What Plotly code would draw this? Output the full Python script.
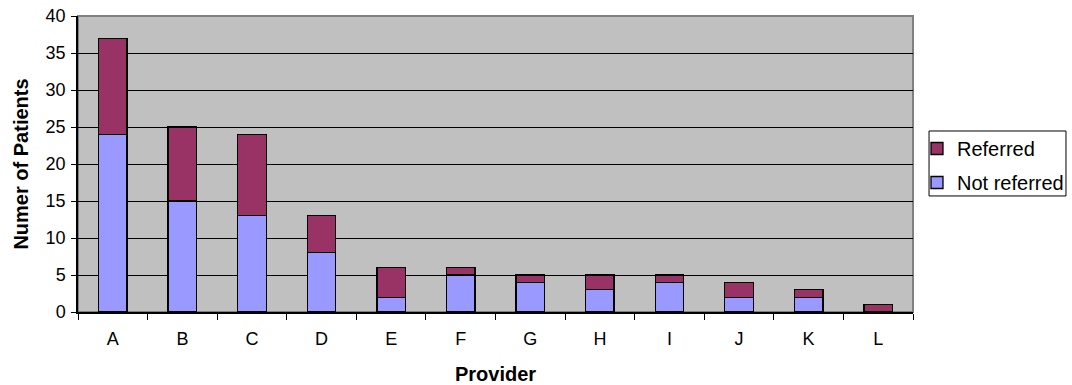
import plotly.graph_objects as go

providers = ["A", "B", "C", "D", "E", "F", "G", "H", "I", "J", "K", "L"]
not_referred = [24, 15, 13, 8, 2, 5, 4, 3, 4, 2, 2, 0]
referred = [13, 10, 11, 5, 4, 1, 1, 2, 1, 2, 1, 1]
y_ticks = [0, 5, 10, 15, 20, 25, 30, 35, 40]

FONT = "Liberation Sans, Arial, sans-serif"

fig = go.Figure()
fig.add_trace(go.Bar(
    x=providers, y=not_referred, name="Not referred",
    legendgroup="nr", legendrank=2,
    marker=dict(color="#9999FF", line=dict(color="black", width=1.3)),
    width=0.41,
))
fig.add_trace(go.Bar(
    x=providers, y=referred, name="Referred",
    legendgroup="r", legendrank=1,
    marker=dict(color="#993366", line=dict(color="black", width=1.3)),
    width=0.41,
))

fig.update_layout(
    barmode="stack",
    width=1072, height=385,
    margin=dict(l=78, r=159, t=16, b=73, autoexpand=False),
    paper_bgcolor="white",
    plot_bgcolor="#C0C0C0",
    font=dict(family=FONT, size=18, color="black"),
    showlegend=True,
    legend=dict(
        xref="container", yref="container",
        x=0.8554, y=0.665, xanchor="left", yanchor="top",
        traceorder="grouped",
        borderwidth=0,
        font=dict(size=20, family=FONT),
        tracegroupgap=5,
        bgcolor="rgba(0,0,0,0)",
    ),
    xaxis=dict(
        title=dict(text="<b>Provider</b>", font=dict(size=20), standoff=22),
        ticks="outside", tickson="boundaries", ticklen=6, tickcolor="black",
        showline=True, linecolor="black", linewidth=1.5,
        showgrid=False,
        ticklabelstandoff=10,
    ),
    yaxis=dict(
        title=dict(text="<b>Numer of Patients</b>", font=dict(size=20), standoff=12),
        range=[0, 40], tickvals=y_ticks,
        ticks="outside", ticklen=5, tickcolor="black",
        showline=True, linecolor="black", linewidth=1.5,
        showgrid=True, gridcolor="black", gridwidth=1,
        zeroline=False,
        ticklabelstandoff=2,
    ),
)

# grey frame along the top and right of the plot area
fig.add_shape(type="rect", xref="paper", yref="paper", x0=0, y0=0, x1=1, y1=1,
              line=dict(color="#808080", width=2), layer="below")

# legend box outline
fig.add_shape(type="rect", xref="paper", yref="paper",
              x0=1.0192, x1=1.1832, y0=0.392, y1=0.6115,
              line=dict(color="black", width=1), fillcolor="white", layer="below")

fig.write_html("out.html")
